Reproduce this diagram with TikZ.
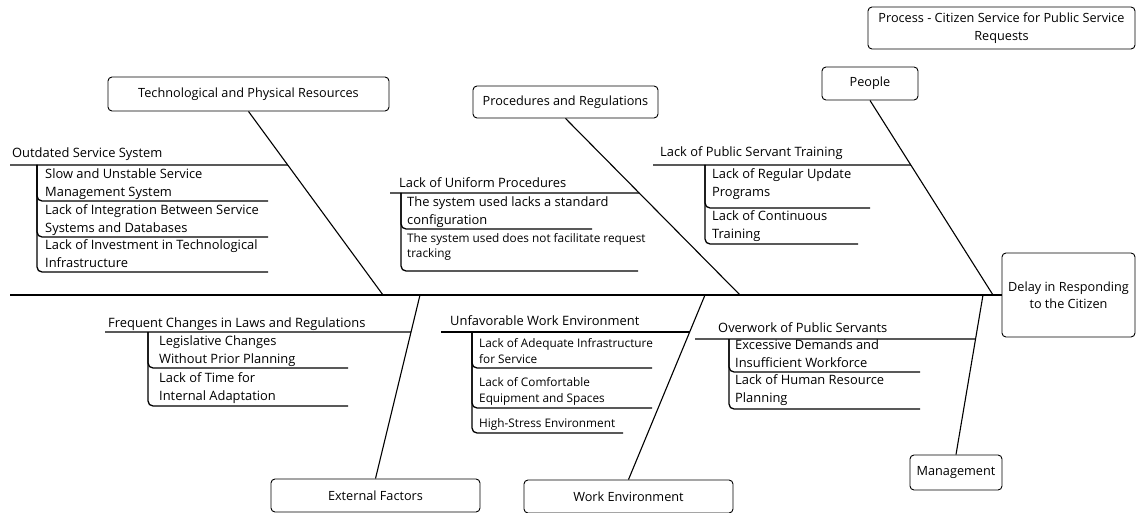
\documentclass[tikz,border=0pt]{standalone}
\usepackage{fontspec}
\setmainfont{Open Sans}
\begin{document}
\begin{tikzpicture}[x=1pt,y=-1pt,
  box/.style={draw, rounded corners=4pt, line width=0.9pt, align=center, inner sep=0pt,
    font=\fontsize{12.7}{17.5}\selectfont},
  spine/.style={line width=1.8pt},
  bone/.style={line width=1.1pt},
  cause/.style={line width=1.3pt},
  sub/.style={line width=1.3pt, rounded corners=5pt},
  % multi-line labels are placed by the baseline of their last line
  lbl/.style={anchor=base west, inner sep=0pt, align=left, font=\fontsize{12.9}{18}\selectfont},
  sml/.style={font=\fontsize{11.8}{15.5}\selectfont}]
\useasboundingbox (0,0) rectangle (1136,513);

% category boxes and effect
\node[box, minimum width=281, minimum height=34] (tech) at (248.5,94) {Technological and Physical Resources};
\node[box, minimum width=185, minimum height=32] (proc) at (565.5,102) {Procedures and Regulations};
\node[box, minimum width=96, minimum height=33] (people) at (870,83.5) {People};
\node[box, minimum width=267, minimum height=42] (title) at (1001.5,28) {Process - Citizen Service for Public Service\\Requests};
\node[box, minimum width=133, minimum height=84] (head) at (1068.5,295) {Delay in Responding\\to the Citizen};
\node[box, minimum width=92, minimum height=35] (mgmt) at (956,472.5) {Management};
\node[box, minimum width=209, minimum height=33] (ext) at (375.5,495.5) {External Factors};
\node[box, minimum width=209, minimum height=33] (work) at (628.5,496.5) {Work Environment};

% spine
\coordinate (tail) at (10,295);
\draw[spine] (tail) -- (head.west);

% bones
\coordinate (s1) at (383,295);
\coordinate (s2) at (740,295);
\coordinate (s3) at (993,295);
\coordinate (s4) at (420,295);
\coordinate (s5) at (705,295);
\coordinate (s6) at (983,295);
\draw[bone] (tech.south) -- (s1);
\draw[bone] (proc.south) -- (s2);
\draw[bone] (people.south) -- (s3);
\draw[bone] (ext.north) -- (s4);
\draw[bone] (work.north) -- (s5);
\draw[bone] (mgmt.north) -- (s6);

% where the causes meet the bones
\coordinate (c1) at (intersection of tech.south--s1 and 0,165--1,165);
\coordinate (c2) at (intersection of proc.south--s2 and 0,193--1,193);
\coordinate (c3) at (intersection of people.south--s3 and 0,165--1,165);
\coordinate (c4) at (intersection of ext.north--s4 and 0,332--1,332);
\coordinate (c5) at (intersection of work.north--s5 and 0,332--1,332);
\coordinate (c6) at (intersection of mgmt.north--s6 and 0,339--1,339);

% Technological and Physical Resources
\draw[cause] (10,165) -- (c1);
\node[lbl] (t0) at (12,158) {Outdated Service System};
\draw[sub] (37,165) |- (268,201);
\draw[sub] (37,165) |- (268,237);
\draw[sub] (37,165) |- (268,272);
\node[lbl] (t1) at (45,197) {Slow and Unstable Service\\Management System};
\node[lbl] (t2) at (45,233) {Lack of Integration Between Service\\Systems and Databases};
\node[lbl] (t3) at (45,268) {Lack of Investment in Technological\\Infrastructure};

% Procedures and Regulations
\draw[cause] (390,193) -- (c2);
\node[lbl] (p0) at (399,188) {Lack of Uniform Procedures};
\draw[sub] (401,193) |- (592,229);
\draw[sub] (401,193) |- (638,271);
\node[lbl] (p1) at (407,225) {The system used lacks a standard\\configuration};
\node[lbl, sml] (p2) at (407,258) {The system used does not facilitate request\\tracking};

% People
\draw[cause] (653,165) -- (c3);
\node[lbl] (e0) at (660,157) {Lack of Public Servant Training};
\draw[sub] (705,165) |- (870,208);
\draw[sub] (705,165) |- (858,244);
\node[lbl] (e1) at (712,197) {Lack of Regular Update\\Programs};
\node[lbl] (e2) at (712,239) {Lack of Continuous\\Training};

% External Factors
\draw[cause] (105,332) -- (c4);
\node[lbl] (x0) at (108,327) {Frequent Changes in Laws and Regulations};
\draw[sub] (148,332) |- (348,368);
\draw[sub] (148,332) |- (348,406);
\node[lbl] (x1) at (159,363) {Legislative Changes\\Without Prior Planning};
\node[lbl] (x2) at (159,400) {Lack of Time for\\Internal Adaptation};

% Work Environment
\draw[cause] (441,332) -- (c5);
\node[lbl] (w0) at (450,326) {Unfavorable Work Environment};
\draw[sub] (472,332) |- (652,368);
\draw[sub] (472,332) |- (652,408);
\draw[sub] (472,332) |- (623,433);
\node[lbl, sml] (w1) at (479,363) {Lack of Adequate Infrastructure\\for Service};
\node[lbl, sml] (w2) at (479,402) {Lack of Comfortable\\Equipment and Spaces};
\node[lbl, sml] (w3) at (479,427) {High-Stress Environment};

% Management
\draw[cause] (695,339) -- (c6);
\node[lbl] (m0) at (718,333) {Overwork of Public Servants};
\draw[sub] (729,339) |- (920,372);
\draw[sub] (729,339) |- (920,409);
\node[lbl] (m1) at (735,367) {Excessive Demands and\\Insufficient Workforce};
\node[lbl] (m2) at (735,402) {Lack of Human Resource\\Planning};
\end{tikzpicture}
\end{document}
